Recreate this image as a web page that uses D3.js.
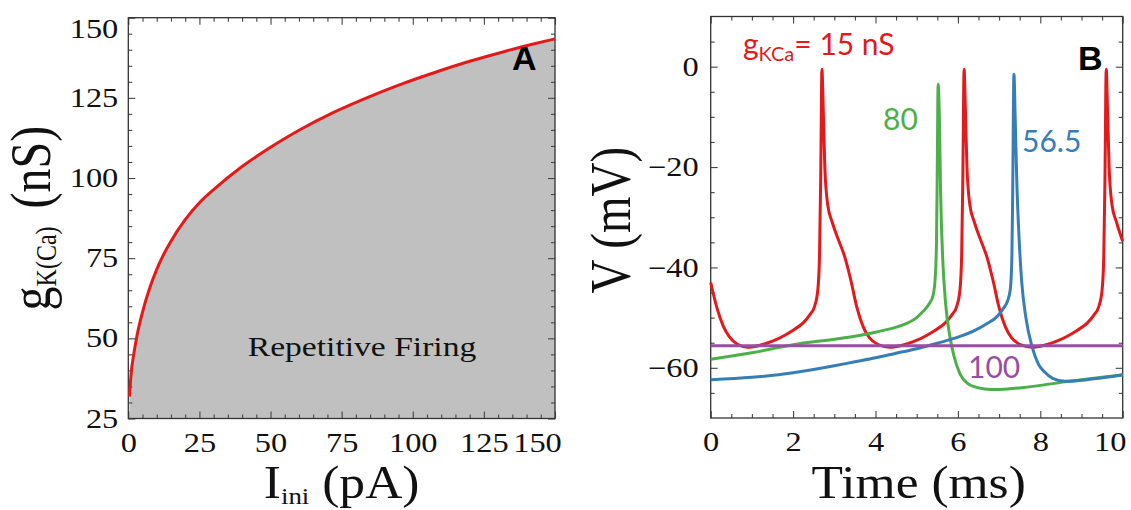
<!DOCTYPE html>
<html>
<head>
<meta charset="utf-8">
<script src="https://cdn.jsdelivr.net/npm/d3@7"></script>
<style>
body { margin: 0; background: #fff; }
svg { display: block; }
.tick text { font-family: "Liberation Serif", "Times New Roman", serif; font-size: 27px; fill: #111; }
.tick line { stroke: #444; stroke-width: 1.1; }
.title { font-family: "Liberation Serif", "Times New Roman", serif; fill: #111; }
.note { font-family: Lato, "Open Sans", sans-serif; font-size: 30px; }
.panel { font-family: "Liberation Sans", Arial, sans-serif; font-weight: bold; font-size: 34px; fill: #000; }
</style>
</head>
<body>
<div id="root"></div>
<script>
// --- panel A: boundary of repetitive firing ---
const iIni = [0.4, 1, 2, 3, 5, 7.5, 10, 12.5, 15, 20, 25, 30, 40, 50, 60, 72, 84, 96, 108, 120, 132, 142, 150];
const gBoundary = [31.8, 39, 45.5, 50.6, 58.2, 65.6, 71.5, 76.3, 80.3, 87, 92.3, 96.4, 103.6, 109.6, 114.9, 120.4, 125.1, 129.3, 133.0, 136.4, 139.4, 141.7, 143.4];

const iMajor = [0, 25, 50, 75, 100, 125, 150];
const iMinor = [5, 10, 15, 20, 30, 35, 40, 45, 55, 60, 65, 70, 80, 85, 90, 95, 105, 110, 115, 120, 130, 135, 140, 145];
const gMajor = [25, 50, 75, 100, 125, 150];
const gMinor = [30, 35, 40, 45, 55, 60, 65, 70, 80, 85, 90, 95, 105, 110, 115, 120, 130, 135, 140, 145];

// --- panel B: voltage traces, [time ms, V mV] ---
const trace15 = [[0,-43.0],[0.15,-48.0],[0.3,-51.6],[0.45,-53.8],[0.65,-55.3],[0.9,-55.9],[1.2,-55.5],[1.5,-54.7],[1.8,-53.5],[2.0,-52.5],[2.25,-51.0],[2.4,-49.5],[2.52,-47.8],[2.6,-44.5],[2.64,-38],[2.67,-22],[2.70,-0.5],[2.73,-8],[2.77,-20],[2.84,-27.5],[2.95,-31],[3.1,-34.5],[3.25,-37.8],[3.4,-42.5],[3.55,-48],[3.7,-51.8],[3.85,-54],[4.05,-55.3],[4.35,-55.9],[4.65,-55.5],[4.95,-54.7],[5.25,-53.5],[5.45,-52.5],[5.7,-51.0],[5.85,-49.5],[5.97,-47.8],[6.05,-44.5],[6.09,-38],[6.12,-22],[6.15,-0.5],[6.18,-8],[6.22,-20],[6.29,-27.5],[6.4,-31],[6.55,-34.5],[6.7,-37.8],[6.85,-42.5],[7.0,-48],[7.15,-51.8],[7.3,-54],[7.5,-55.3],[7.8,-55.9],[8.1,-55.5],[8.4,-54.7],[8.7,-53.5],[8.9,-52.5],[9.15,-51.0],[9.3,-49.5],[9.42,-47.8],[9.5,-44.5],[9.54,-38],[9.57,-22],[9.6,-0.5],[9.63,-8],[9.67,-20],[9.74,-27.5],[9.85,-31],[10,-34.8]];
const trace80 = [[0,-58.3],[1,-57.0],[2,-55.4],[3,-54.3],[3.5,-53.7],[4,-52.9],[4.5,-51.9],[4.8,-51.0],[5.0,-50.0],[5.15,-48.8],[5.3,-47.3],[5.4,-45.5],[5.45,-42],[5.48,-35],[5.50,-20],[5.52,-3.5],[5.55,-10],[5.58,-25],[5.63,-38],[5.7,-47],[5.8,-53.5],[5.9,-57.5],[6.05,-61.2],[6.25,-63.2],[6.5,-64],[6.8,-64.3],[7.2,-64.2],[7.6,-63.9],[8,-63.5],[8.6,-62.8],[9,-62.4],[9.5,-61.9],[10,-61.4]];
const trace565 = [[0,-62.4],[1,-61.9],[2,-61.0],[3,-59.6],[3.5,-58.8],[4,-58.0],[4.5,-57.1],[5,-56.2],[5.5,-55.1],[6,-53.9],[6.4,-52.6],[6.7,-51.2],[6.95,-49.8],[7.1,-48.2],[7.2,-46.8],[7.27,-44.5],[7.31,-38],[7.33,-25],[7.36,-1.5],[7.39,-10],[7.43,-23],[7.49,-35],[7.55,-43],[7.65,-50],[7.8,-55.8],[7.95,-59.2],[8.1,-60.8],[8.3,-62.1],[8.6,-62.7],[8.9,-62.6],[9.3,-62.2],[9.7,-61.8],[10,-61.4]];
const trace100 = [[0,-55.6],[10,-55.6]];

const tMajor = [0, 2, 4, 6, 8, 10];
const tMinor = [0.5, 1, 1.5, 2.5, 3, 3.5, 4.5, 5, 5.5, 6.5, 7, 7.5, 8.5, 9, 9.5];
const vMajor = [-60, -40, -20, 0];
const vMinor = [-65, -55, -50, -45, -35, -30, -25, -15, -10, -5, 5];

const red = "#e31a1c", green = "#4daf4a", blue = "#377eb8", purple = "#984ea3";
const TX = 1.2; // the source figure's serif text is stretched horizontally

const svg = d3.select("#root").append("svg").attr("width", 1131).attr("height", 510);

function widen(sel, k) {
  sel.each(function () {
    const t = d3.select(this);
    const x = +t.attr("x") || 0, y = +t.attr("y") || 0;
    t.attr("x", null).attr("y", null)
      .attr("transform", `translate(${x},${y}) scale(${k},1)`);
  });
}

function drawFrame(g, x, y, xt, yt) {
  const [yb, ytop] = y.range(), [xl, xr] = x.range();
  const sides = [
    [d3.axisBottom(x), `translate(0,${yb})`, xt, true],
    [d3.axisTop(x), `translate(0,${ytop})`, xt, false],
    [d3.axisLeft(y), `translate(${xl},0)`, yt, true],
    [d3.axisRight(y), `translate(${xr},0)`, yt, false]
  ];
  sides.forEach(([axis, tr, tk, labelled]) => {
    g.append("g").attr("transform", tr)
      .call(axis.tickValues(tk.minor).tickSize(-4).tickFormat(""))
      .call(s => s.select(".domain").remove());
    const a = g.append("g").attr("transform", tr)
      .call(axis.tickValues(tk.major).tickSize(-7).tickPadding(tk.pad).tickFormat(labelled ? d3.format("d") : ""))
      .call(s => s.select(".domain").remove());
    if (labelled) {
      a.selectAll("text")
        .attr("x", function (d) { return +d3.select(this).attr("x") + (tk.shift[d] ? tk.shift[d][0] : 0); })
        .attr("y", function (d) { return +d3.select(this).attr("y") + (tk.shift[d] ? tk.shift[d][1] : 0); })
        .call(widen, TX);
    } else {
      a.selectAll("text").remove();
    }
  });
  g.append("rect")
    .attr("x", xl).attr("y", ytop).attr("width", xr - xl).attr("height", yb - ytop)
    .attr("fill", "none").attr("stroke", "#333").attr("stroke-width", 1.3);
}

// ---------- panel A ----------
const xA = d3.scaleLinear().domain([0, 150]).range([128.3, 555]);
const yA = d3.scaleLinear().domain([25, 150]).range([418.5, 17.7]);
const gA = svg.append("g");
const boundary = iIni.map((d, i) => [d, gBoundary[i]]);

gA.append("path").datum(boundary)
  .attr("fill", "#c0c0c0")
  .attr("d", d3.area().x(d => xA(d[0])).y0(yA(25)).y1(d => yA(d[1])).curve(d3.curveMonotoneX));

gA.append("text").attr("class", "title")
  .attr("x", xA(42)).attr("y", yA(44.5))
  .style("font-size", "28px")
  .text("Repetitive Firing")
  .call(widen, TX);

drawFrame(gA, xA, yA,
  { major: iMajor, minor: iMinor, pad: 14, shift: { 150: [-18, 0] } },
  { major: gMajor, minor: gMinor, pad: 10, shift: { 150: [0, 11] } });

gA.append("path").datum(boundary)
  .attr("fill", "none").attr("stroke", red).attr("stroke-width", 3)
  .attr("d", d3.line().x(d => xA(d[0])).y(d => yA(d[1])).curve(d3.curveMonotoneX));

gA.append("text").attr("class", "panel").attr("x", 512).attr("y", 70).text("A");

const tA = gA.append("text").attr("class", "title")
  .attr("text-anchor", "middle").style("font-size", "46px")
  .attr("transform", `translate(${(xA(0) + xA(150)) / 2},498) scale(1.12,1)`);
tA.append("tspan").text("I");
tA.append("tspan").attr("dy", 6).style("font-size", "24px").text("ini");
tA.append("tspan").attr("dy", -6).text(" (pA)");

const yTitleA = gA.append("text").attr("class", "title")
  .attr("text-anchor", "middle").style("font-size", "48px")
  .attr("transform", `translate(50,${(yA(25) + yA(150)) / 2}) rotate(-90) scale(1,${TX})`);
yTitleA.append("tspan").text("g");
yTitleA.append("tspan").attr("dy", 5).style("font-size", "24px").text("K(Ca)");
yTitleA.append("tspan").attr("dy", -5).attr("dx", 6).text(" (nS)");

// ---------- panel B ----------
const xB = d3.scaleLinear().domain([0, 10]).range([710.7, 1122.7]);
const yB = d3.scaleLinear().domain([-70, 10]).range([418, 16.5]);
const gB = svg.append("g");

drawFrame(gB, xB, yB,
  { major: tMajor, minor: tMinor, pad: 14, shift: { 10: [-13, 0] } },
  { major: vMajor, minor: vMinor, pad: 12, shift: {} });

const line = d3.line().x(d => xB(d[0])).y(d => yB(d[1])).curve(d3.curveMonotoneX);
[[trace15, red], [trace80, green], [trace565, blue], [trace100, purple]].forEach(([tr, c]) => {
  gB.append("path").datum(tr)
    .attr("fill", "none").attr("stroke", c).attr("stroke-width", 3)
    .attr("stroke-linejoin", "round").attr("d", line);
});

const lab = gB.append("text").attr("class", "note").attr("fill", red).attr("x", 743).attr("y", 55);
lab.append("tspan").text("g");
lab.append("tspan").attr("dy", 6).style("font-size", "20px").text("KCa");
lab.append("tspan").attr("dy", -6).text("= 15 nS");

gB.append("text").attr("class", "note").attr("fill", green).attr("x", 883).attr("y", 130).text("80");
gB.append("text").attr("class", "note").attr("fill", blue).attr("x", 1022).attr("y", 152).text("56.5");
gB.append("text").attr("class", "note").attr("fill", purple).attr("x", 968).attr("y", 378).text("100");
gB.append("text").attr("class", "panel").attr("x", 1078).attr("y", 70).text("B");

gB.append("text").attr("class", "title")
  .attr("text-anchor", "middle").style("font-size", "46px")
  .attr("transform", `translate(${(xB(0) + xB(10)) / 2 + 2},498) scale(1.12,1)`)
  .text("Time (ms)");

gB.append("text").attr("class", "title")
  .attr("text-anchor", "middle").style("font-size", "47px")
  .attr("transform", `translate(630,${(yB(-70) + yB(10)) / 2 + 3}) rotate(-90) scale(1,${TX})`)
  .text("V (mV)");
</script>
</body>
</html>
